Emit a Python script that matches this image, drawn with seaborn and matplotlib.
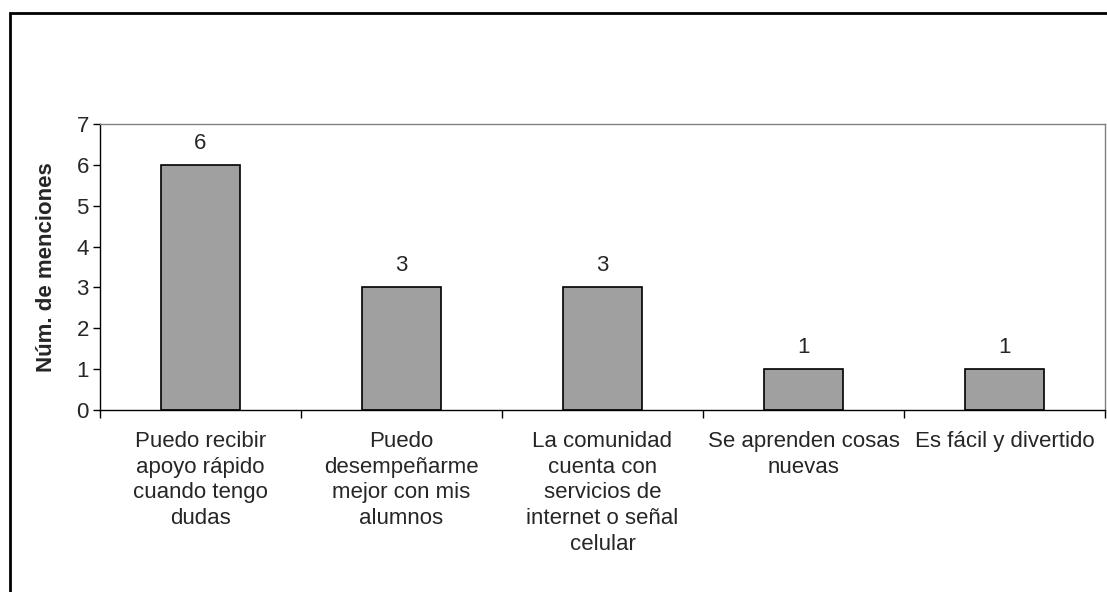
import matplotlib
matplotlib.use("Agg")
import matplotlib.pyplot as plt
import seaborn as sns
import pandas as pd
from matplotlib.patches import Rectangle

categories = [
    "Puedo recibir\napoyo rápido\ncuando tengo\ndudas",
    "Puedo\ndesempeñarme\nmejor con mis\nalumnos",
    "La comunidad\ncuenta con\nservicios de\ninternet o señal\ncelular",
    "Se aprenden cosas\nnuevas",
    "Es fácil y divertido",
]
values = [6, 3, 3, 1, 1]
y_label = "Núm. de menciones"

sns.set_style("white")
plt.rcParams["font.family"] = ["Liberation Sans", "DejaVu Sans"]

W, H = 1107, 592
fig = plt.figure(figsize=(W / 100, H / 100), dpi=100)
ax = fig.add_axes([100 / W, 1 - 410 / H, (1105 - 100) / W, (410 - 124) / H])

df = pd.DataFrame({"cat": categories, "val": values})
sns.barplot(data=df, x="cat", y="val", color="#A0A0A0", edgecolor="black",
            linewidth=1.2, width=0.39, saturation=1, ax=ax)

ax.bar_label(ax.containers[0], labels=[str(v) for v in values], padding=8, fontsize=16)

ax.set_xlim(-0.5, len(categories) - 0.5)
ax.set_ylim(0, 7)
ax.set_yticks(range(0, 8))
ax.tick_params(axis="y", length=5, width=1, color="black", labelsize=16, pad=3, left=True, direction="out")
ax.set_xticks(range(len(categories)))
ax.set_xticklabels(categories, fontsize=16, linespacing=1.3, va="top")
ax.tick_params(axis="x", which="major", length=0, pad=15)
ax.set_xticks([i - 0.5 for i in range(len(categories) + 1)], minor=True)
ax.tick_params(axis="x", which="minor", length=6, width=1, color="black", bottom=True, direction="out")
ax.set_xlabel("")
ax.set_ylabel(y_label, fontsize=16, fontweight="bold", labelpad=14)

for s in ["top", "right"]:
    ax.spines[s].set_color("#808080")
    ax.spines[s].set_linewidth(1)
for s in ["left", "bottom"]:
    ax.spines[s].set_color("#000000")
    ax.spines[s].set_linewidth(1)

fig.patches.append(Rectangle((9.5 / W, -0.05), 1.2, 1 - 12.5 / H + 0.05,
                             transform=fig.transFigure, fill=False,
                             edgecolor="black", linewidth=2, figure=fig))

fig.savefig("out.png", dpi=100)
